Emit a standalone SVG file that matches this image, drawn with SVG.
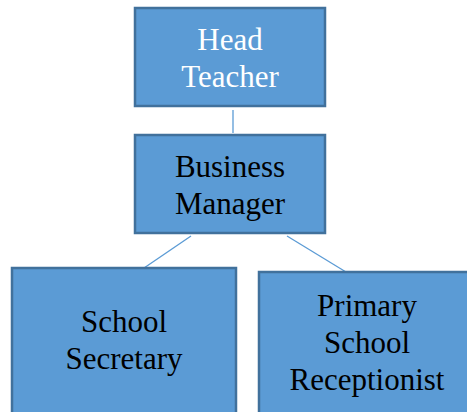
<svg xmlns="http://www.w3.org/2000/svg" width="467" height="412" viewBox="0 0 467 412">
  <style>
    .box { fill: #5B9BD5; stroke: #41719C; stroke-width: 2.5; }
    .lbl { font-size: 31px; text-anchor: middle; fill: #000; }
    .light { fill: #fff; }
    .link { stroke: #5B9BD5; stroke-width: 1.3; fill: none; }
  </style>
  <rect width="467" height="412" fill="#fff"/>
  <g id="connectors">
    <line class="link" x1="233" y1="110" x2="233" y2="133"/>
    <line class="link" x1="191" y1="236" x2="144" y2="268"/>
    <line class="link" x1="287" y1="236" x2="346" y2="272"/>
  </g>
  <g font-family="'Liberation Serif', 'DejaVu Serif', serif">
    <g id="head-teacher">
      <rect class="box" x="135" y="8" width="190" height="98"/>
      <text class="lbl light" x="230" y="50">Head</text>
      <text class="lbl light" x="230" y="87">Teacher</text>
    </g>
    <g id="business-manager">
      <rect class="box" x="135" y="135" width="190" height="98"/>
      <text class="lbl" x="230" y="177">Business</text>
      <text class="lbl" x="230" y="214">Manager</text>
    </g>
    <g id="school-secretary">
      <rect class="box" x="12" y="268" width="224" height="150"/>
      <text class="lbl" x="124" y="332">School</text>
      <text class="lbl" x="124" y="369">Secretary</text>
    </g>
    <g id="primary-school-receptionist">
      <rect class="box" x="259" y="272" width="220" height="150"/>
      <text class="lbl" x="367" y="316">Primary</text>
      <text class="lbl" x="367" y="353">School</text>
      <text class="lbl" x="367" y="390">Receptionist</text>
    </g>
  </g>
</svg>
